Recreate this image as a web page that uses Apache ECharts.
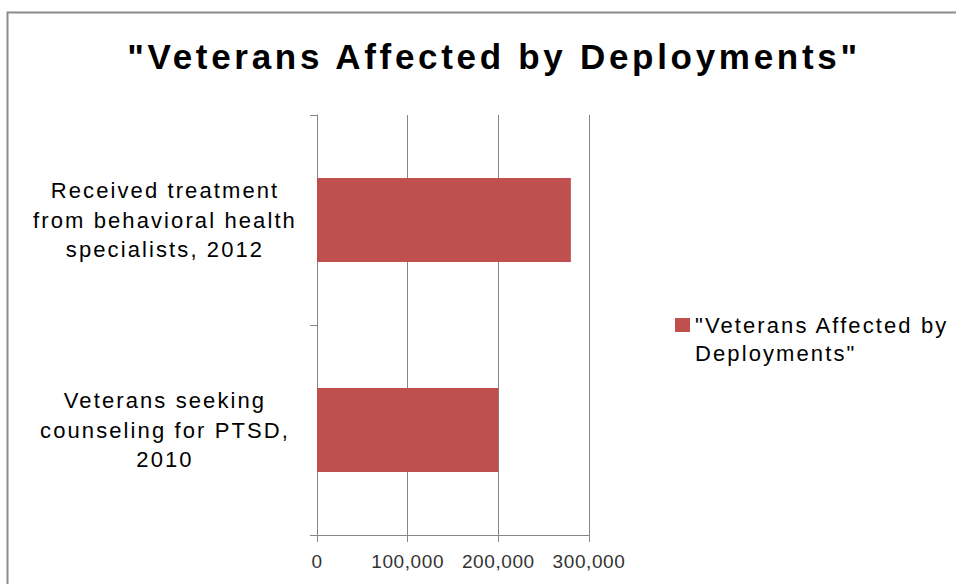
<!DOCTYPE html>
<html><head><meta charset="utf-8">
<script src="https://cdn.jsdelivr.net/npm/echarts@6/dist/echarts.min.js"></script>
<style>
html,body{margin:0;padding:0;background:#fff}
#c{width:956px;height:584px}
#c text[style*="35px"]{letter-spacing:3.7px}
#c text[style*="22px"]{letter-spacing:2.1px}
#c text[style*="19px"]{letter-spacing:0.6px}
</style>
</head><body><div id="c"></div>
<script>
const titleText = '"Veterans Affected by Deployments"';
const seriesName = '"Veterans Affected by Deployments"';
const legendLabel = '"Veterans Affected by\nDeployments"';
const categories = [
  'Veterans seeking\ncounseling for PTSD,\n2010',
  'Received treatment\nfrom behavioral health\nspecialists, 2012'
];
const values = [200000, 280000];
const xMin = 0, xMax = 300000, xInterval = 100000;

const chart = echarts.init(document.getElementById('c'), null, { renderer: 'svg' });
chart.setOption({
  animation: false,
  title: {
    text: titleText, left: 489, top: 34, textAlign: 'center',
    textStyle: { fontFamily: 'Liberation Sans', fontWeight: 'bold', fontSize: 35, color: '#000' }
  },
  graphic: [{
    type: 'rect', shape: { x: 7.5, y: 12.5, width: 1200, height: 1000 },
    style: { fill: 'none', stroke: '#8c8c8c', lineWidth: 2 }, silent: true
  }],
  legend: {
    left: 670, top: 306, itemWidth: 15, itemHeight: 42, itemGap: 5,
    icon: 'path://M0,0L15,0L15,14L0,14Z M0,42L0,42',
    formatter: () => legendLabel,
    textStyle: { fontFamily: 'Liberation Sans', fontSize: 22, color: '#000', lineHeight: 28 },
    data: [seriesName]
  },
  grid: { left: 317, right: 367, top: 115, bottom: 49, containLabel: false },
  xAxis: {
    type: 'value', min: xMin, max: xMax, interval: xInterval,
    axisLine: { show: true, lineStyle: { color: '#868686', width: 1 } },
    axisTick: { show: true, length: 7, lineStyle: { color: '#868686' } },
    splitLine: { show: true, lineStyle: { color: '#868686', width: 1 } },
    axisLabel: {
      margin: 17, fontFamily: 'Liberation Sans', fontSize: 19, color: '#333',
      formatter: v => v.toLocaleString('en-US')
    }
  },
  yAxis: {
    type: 'category', data: categories,
    axisLine: { show: true, lineStyle: { color: '#868686', width: 1 } },
    axisTick: { show: true, length: 7, lineStyle: { color: '#868686' } },
    axisLabel: {
      margin: 152, align: 'center', fontFamily: 'Liberation Sans', fontSize: 22,
      color: '#000', lineHeight: 29.5, padding: [4, 0, 0, 0]
    }
  },
  series: [{
    name: seriesName, type: 'bar', data: values, barCategoryGap: '60%',
    itemStyle: { color: '#C0504D' }
  }]
});
</script></body></html>
